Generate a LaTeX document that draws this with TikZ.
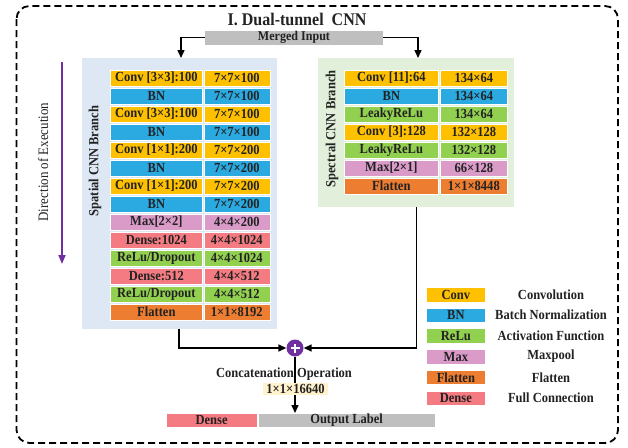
\documentclass[tikz,border=0pt]{standalone}
\usepackage{fontspec}
\setmainfont{Liberation Serif}[FakeStretch=0.9]
\usetikzlibrary{arrows.meta}
\definecolor{conv}{HTML}{FFC000}
\definecolor{bn}{HTML}{2AAAE1}
\definecolor{relu}{HTML}{92D050}
\definecolor{maxp}{HTML}{DA9BC9}
\definecolor{flat}{HTML}{ED7D31}
\definecolor{dense}{HTML}{F47B81}
\definecolor{grayb}{HTML}{BFBFBF}
\definecolor{bluepanel}{HTML}{DEE8F4}
\definecolor{greenpanel}{HTML}{E2EFDA}
\definecolor{txt}{HTML}{222222}
\definecolor{purp}{HTML}{7030A0}
\definecolor{yel}{HTML}{FFF2CC}
\tikzset{
  cell/.style={draw=white, line width=0.7pt, minimum height=15.5pt, inner sep=0pt, anchor=north west,
    font=\bfseries\fontsize{13.9}{14}\selectfont, text=txt},
  panel/.style={anchor=north west, inner sep=0pt, draw=none},
  legbox/.style={cell, minimum width=59pt, minimum height=14.5pt},
  leglab/.style={font=\bfseries\fontsize{13.9}{14}\selectfont, text=txt},
  arr/.style={line width=1.5pt, -{Triangle[length=8pt,width=7pt]}},
  conn/.style={line width=1.5pt},
}
\begin{document}
\begin{tikzpicture}[x=1pt,y=-1pt]
\useasboundingbox (0,0) rectangle (628,447);
% outer dashed frame
\draw[line width=1.8pt, dash pattern=on 7pt off 4pt, rounded corners=13pt] (16.5,6) rectangle (618,443);
% title
\node[font=\bfseries\fontsize{17.8}{19}\selectfont, text=txt] (title) at (297,19) {I. Dual-tunnel\ \ CNN};
% merged input
\node[fill=grayb, minimum width=178pt, minimum height=14pt, inner sep=0pt,
  font=\bfseries\fontsize{13.4}{14}\selectfont, text=txt] (mi) at (294,37.5) {Merged Input};
% panels
\node[panel, fill=bluepanel, minimum width=195pt, minimum height=271pt] (sp) at (82,58) {};
\node[panel, fill=greenpanel, minimum width=196pt, minimum height=149pt] (spe) at (318,58) {};
% direction of execution
\node[rotate=90, font=\fontsize{14.4}{15}\selectfont, text=txt] (dir) at (43,162) {Direction of Execution};
\coordinate (dirtop) at (62,62);
\coordinate (dirbot) at (62,264);
\draw[line width=1.8pt, draw=purp, -{Triangle[length=9pt,width=7pt]}, color=purp] (dirtop) -- (dirbot);
% branch labels
\node[rotate=90, font=\bfseries\fontsize{13.9}{14}\selectfont, text=txt] (splab) at (95,161) {Spatial CNN Branch};
\node[rotate=90, font=\bfseries\fontsize{13.9}{14}\selectfont, text=txt] (spelab) at (332,129) {Spectral CNN Branch};
% spatial rows
\foreach \i/\c/\a/\b in {
  0/conv/{Conv [3×3]:100}/{7×7×100},
  1/bn/{BN}/{7×7×100},
  2/conv/{Conv [3×3]:100}/{7×7×100},
  3/bn/{BN}/{7×7×100},
  4/conv/{Conv [1×1]:200}/{7×7×200},
  5/bn/{BN}/{7×7×200},
  6/conv/{Conv [1×1]:200}/{7×7×200},
  7/bn/{BN}/{7×7×200},
  8/maxp/{Max[2×2]}/{4×4×200},
  9/dense/{Dense:1024}/{4×4×1024},
  10/relu/{ReLu/Dropout}/{4×4×1024},
  11/dense/{Dense:512}/{4×4×512},
  12/relu/{ReLu/Dropout}/{4×4×512},
  13/flat/{Flatten}/{1×1×8192}}{
  \node[cell, fill=\c, minimum width=92pt] (sa\i) at (110,{70+18*\i}) {\a};
  \node[cell, fill=\c, minimum width=66pt] (sb\i) at (203.5,{70+18*\i}) {\b};
}
% spectral rows
\foreach \i/\c/\a/\b in {
  0/conv/{Conv [11]:64}/{134×64},
  1/bn/{BN}/{134×64},
  2/relu/{LeakyReLu}/{134×64},
  3/conv/{Conv [3]:128}/{132×128},
  4/relu/{LeakyReLu}/{132×128},
  5/maxp/{Max[2×1]}/{66×128},
  6/flat/{Flatten}/{1×1×8448}}{
  \node[cell, fill=\c, minimum width=94pt] (ta\i) at (344,{70+18*\i}) {\a};
  \node[cell, fill=\c, minimum width=67pt] (tb\i) at (440,{70+18*\i}) {\b};
}
% input arrows
\coordinate (spin) at (181,58);
\coordinate (spein) at (418,58);
\draw[arr] (mi.west) -| (spin);
\draw[arr] (mi.east) -| (spein);
% concatenation
\node[circle, fill=purp, minimum size=17pt, inner sep=0pt] (cat) at (295,348) {};
\draw[white, line width=2.6pt] ([xshift=-4.5pt]cat.center) -- ([xshift=4.5pt]cat.center)
  ([yshift=-4.5pt]cat.center) -- ([yshift=4.5pt]cat.center);
\coordinate (spout) at (179,329);
\coordinate (speout) at (416.5,207);
\draw[conn, -{Triangle[length=8pt,width=7pt]}] (spout) |- (cat.west);
\draw[conn, -{Triangle[length=8pt,width=7pt]}] (speout) |- (cat.east);
\node[font=\bfseries\fontsize{13.9}{14}\selectfont, text=txt] (catlab) at (284,374) {Concatenation Operation};
\node[fill=yel, minimum width=65pt, minimum height=12.5pt, inner sep=0pt,
  font=\bfseries\fontsize{13.9}{14}\selectfont, text=txt] (dim) at (295.5,389) {1×1×16640};
\draw[conn] (cat.south) -- (dim.north -| cat.south);
% output row
\node[cell, fill=dense, minimum width=90.5pt, minimum height=14.3pt] (od) at (166,413) {Dense};
\node[cell, fill=grayb, minimum width=177.5pt, minimum height=14.3pt] (ol) at (257.5,413) {Output Label};
\draw[arr] (dim.south -| cat.south) -- (ol.north -| cat.south);
% legend
\foreach \i/\c/\a/\b in {
  0/conv/{Conv}/{Convolution},
  1/bn/{BN}/{Batch Normalization},
  2/relu/{ReLu}/{Activation Function},
  3/maxp/{Max}/{Maxpool},
  4/flat/{Flatten}/{Flatten},
  5/dense/{Dense}/{Full Connection}}{
  \node[legbox, fill=\c] (lg\i) at (426,{287+20.7*\i}) {\a};
  \node[leglab] (ll\i) at (551,{294.5+20.7*\i}) {\b};
}
\end{tikzpicture}
\end{document}
